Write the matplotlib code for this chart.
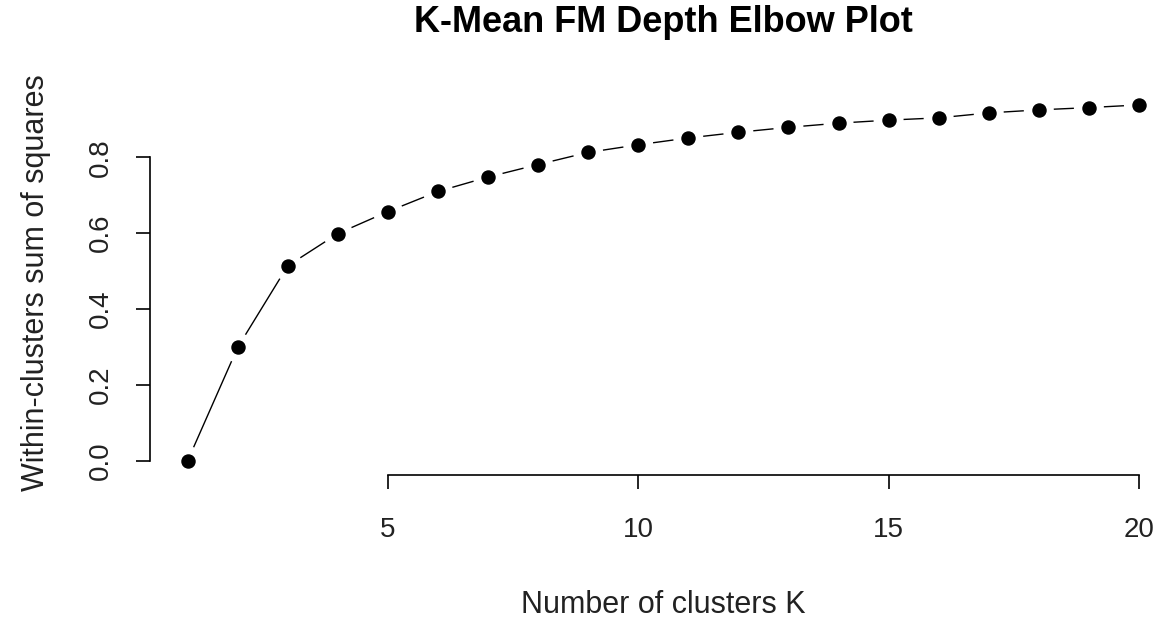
import numpy as np
import matplotlib
matplotlib.use("Agg")
import matplotlib.pyplot as plt

# Elbow curve: number of clusters vs. explained within-cluster sum of squares ratio
k_values = list(range(1, 21))
wss_ratio = [0.000, 0.299, 0.514, 0.599, 0.657, 0.710, 0.748, 0.781, 0.813, 0.833,
             0.851, 0.866, 0.879, 0.890, 0.898, 0.904, 0.917, 0.925, 0.931, 0.938]
x_ticks = [5, 10, 15, 20]
y_ticks = [0.0, 0.2, 0.4, 0.6, 0.8]

title = "K-Mean FM Depth Elbow Plot"
x_label = "Number of clusters K"
y_label = "Within-clusters sum of squares"

plt.rcParams["font.family"] = ["Liberation Sans", "DejaVu Sans"]

W, H = 1160, 621
fig = plt.figure(figsize=(W / 100, H / 100), dpi=100)
ax = fig.add_axes([149.5 / W, (H - 475.2) / H, (1177 - 149.5) / W, (475.2 - 90.7) / H])

# R-style 4% range expansion
def expand(lo, hi, f=0.04):
    d = (hi - lo) * f
    return lo - d, hi + d

ax.set_xlim(*expand(min(k_values), max(k_values)))
ax.set_ylim(*expand(min(wss_ratio), max(wss_ratio)))

# points
ax.plot(k_values, wss_ratio, linestyle="none", marker="o", markersize=9.4,
        color="black", zorder=3)

# connecting segments with gaps around each point (type = "b")
fig.canvas.draw()
pts = ax.transData.transform(np.column_stack([k_values, wss_ratio]))
gap = 15.0
inv = ax.transData.inverted()
for p0, p1 in zip(pts[:-1], pts[1:]):
    v = p1 - p0
    L = np.hypot(*v)
    if L <= 2 * gap:
        continue
    u = v / L
    a = inv.transform(p0 + u * gap)
    b = inv.transform(p1 - u * gap)
    ax.plot([a[0], b[0]], [a[1], b[1]], color="black", lw=1.0, solid_capstyle="butt")

# detached axes
for s in ["top", "right"]:
    ax.spines[s].set_visible(False)
ax.spines["left"].set_bounds(min(y_ticks), max(y_ticks))
ax.spines["bottom"].set_bounds(min(x_ticks), max(x_ticks))
for s in ["left", "bottom"]:
    ax.spines[s].set_linewidth(1.2)
    ax.spines[s].set_color("black")

ax.set_xticks(x_ticks)
ax.set_xticklabels([str(t) for t in x_ticks])
ax.set_yticks(y_ticks)
ax.set_yticklabels([f"{t:.1f}" for t in y_ticks], rotation=90, va="center")
ax.tick_params(axis="both", direction="out", length=10, width=1.2, color="black",
               labelsize=20, labelcolor="#222222")
ax.tick_params(axis="x", pad=20)
ax.tick_params(axis="y", pad=16)

ax.set_xlabel(x_label, fontsize=22, color="#222222", labelpad=34)
ax.set_ylabel(y_label, fontsize=22, color="#222222", labelpad=26)

ax_center_x = (149.5 + 1177) / 2 / W
fig.text(ax_center_x, 1 - 22 / H, title, fontsize=26, fontweight="bold",
         ha="center", va="center")

fig.savefig("out.png", dpi=100, facecolor="white")
